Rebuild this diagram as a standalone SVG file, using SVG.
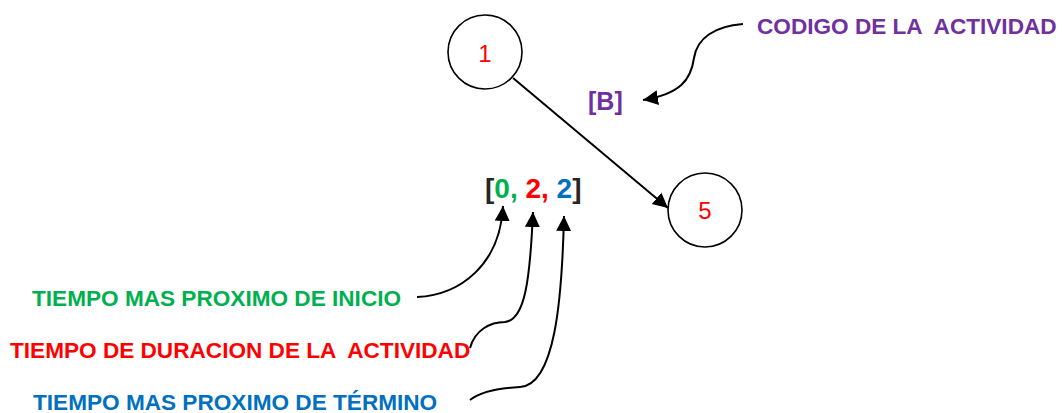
<svg xmlns="http://www.w3.org/2000/svg" width="1062" height="413" viewBox="0 0 1062 413">
<style>
text{font-family:"Liberation Sans",Arial,sans-serif;white-space:pre}
.b{font-weight:bold;font-size:22.6px}
.node{fill:#fff;stroke:#000;stroke-width:1.6}
.num{font-size:24px;fill:#f00;text-anchor:middle}
.con{fill:none;stroke:#000;stroke-width:2}
.g{fill:#00B050}.r{fill:#f00}.bl{fill:#0070C0}.p{fill:#7030A0}.k{fill:#262626}
</style>
<defs>
<marker id="ah" markerUnits="userSpaceOnUse" markerWidth="16" markerHeight="16" viewBox="0 0 16 16" refX="15" refY="8" orient="auto">
<path d="M0,0.5 L15,8 L0,15.5 z" fill="#000"/>
</marker>
</defs>
<g id="connectors">
<path class="con" d="M513,78 L668,208" marker-end="url(#ah)"/>
<path class="con" d="M743,24 C715,26 697,38 694,58 C691,80 680,94 643,100" marker-end="url(#ah)"/>
<path class="con" d="M417,297 C460,295 500,265 503,206" marker-end="url(#ah)"/>
<path class="con" d="M470,348 C475,330 490,322 505,322 C525,320 530,280 533,212" marker-end="url(#ah)"/>
<path class="con" d="M470,400 C480,392 500,388 520,387 C555,385 562,300 564,216" marker-end="url(#ah)"/>
</g>
<g id="node1">
<circle class="node" cx="485" cy="52" r="37"/>
<text class="num" x="485" y="62">1</text>
</g>
<g id="node5">
<circle class="node" cx="705" cy="210" r="37"/>
<text class="num" x="705" y="219">5</text>
</g>
<g id="code">
<text class="b p" x="588" y="110" style="font-size:25px">[B]</text>
<text class="b p" x="757" y="34">CODIGO DE LA  ACTIVIDAD</text>
</g>
<g id="times">
<text class="b" x="485" y="198" style="font-size:28px"><tspan class="k">[</tspan><tspan class="g">0, </tspan><tspan class="r">2, </tspan><tspan class="bl">2</tspan><tspan class="k">]</tspan></text>
<text class="b g" x="32" y="306">TIEMPO MAS PROXIMO DE INICIO</text>
<text class="b r" x="10" y="358">TIEMPO DE DURACION DE LA  ACTIVIDAD</text>
<text class="b bl" x="33" y="410">TIEMPO MAS PROXIMO DE TÉRMINO</text>
</g>
</svg>
